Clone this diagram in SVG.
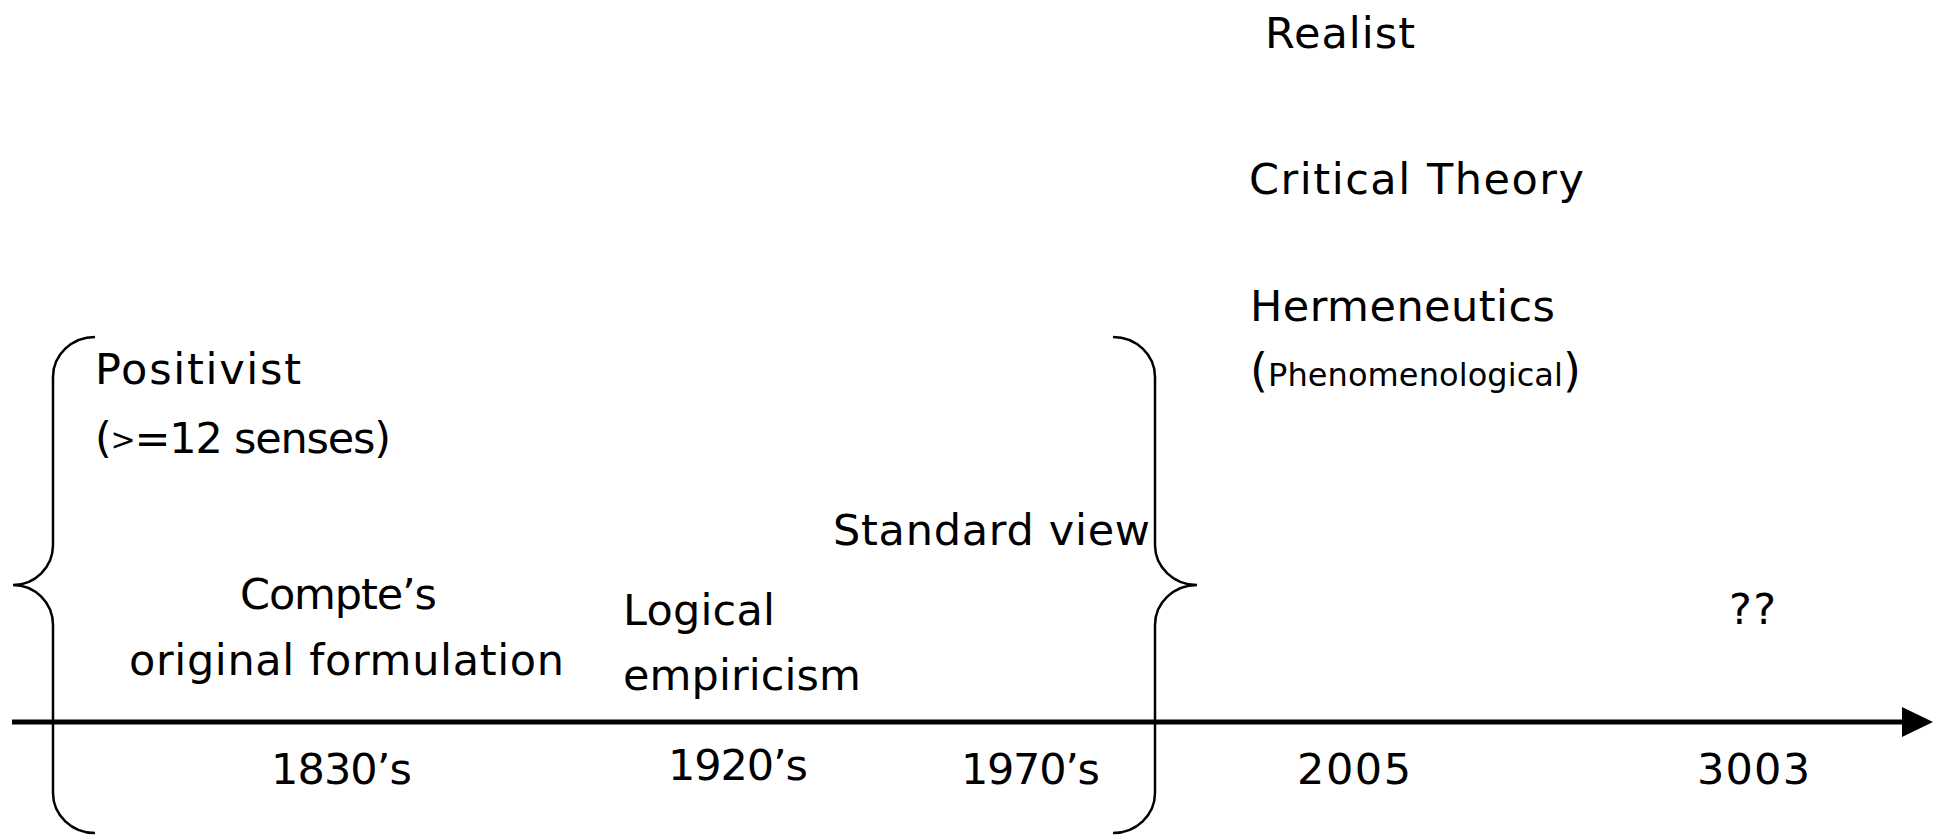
<svg xmlns="http://www.w3.org/2000/svg" width="1941" height="836" viewBox="0 0 1941 836">
  <style>
    text { font-family: "Comic Sans MS", "DejaVu Sans", "Liberation Sans", sans-serif; fill: #000; }
    .lbl { font-size: 43px; }
    .small { font-size: 32px; }
    .paren { font-size: 46px; }
    .gt { font-size: 30px; }
    .brace { fill: none; stroke: #000; stroke-width: 2.5; }
    .axis { fill: none; stroke: #000; stroke-width: 5; }
  </style>
  <defs>
    <marker id="arrowhead" markerUnits="userSpaceOnUse" markerWidth="32" markerHeight="32" refX="0" refY="15" orient="auto">
      <path d="M0,0 L31,15 L0,30 Z" fill="#000"/>
    </marker>
  </defs>
  <rect width="1941" height="836" fill="#fff"/>

  <!-- timeline axis and braces -->
  <g id="connectors">
    <line class="axis" x1="12" y1="722" x2="1902" y2="722" marker-end="url(#arrowhead)"/>
    <path id="brace-left" class="brace" d="M95,337 A42,40 0 0 0 53,377 L53,545 A40,40 0 0 1 13,585 A40,40 0 0 1 53,625 L53,793 A42,40 0 0 0 95,833"/>
    <path id="brace-right" class="brace" d="M1113,337 A42,40 0 0 1 1155,377 L1155,545 A42,40 0 0 0 1197,585 A42,40 0 0 0 1155,625 L1155,793 A42,40 0 0 1 1113,833"/>
  </g>

  <!-- positivist family -->
  <g id="positivist">
    <text class="lbl" x="95" y="384" textLength="206">Positivist</text>
    <text class="lbl" x="95" y="453" textLength="296">(<tspan class="gt" dy="-3">&gt;</tspan><tspan dy="3">=12 senses)</tspan></text>
  </g>
  <g id="compte">
    <text class="lbl" x="240" y="609" textLength="197">Compte’s</text>
    <text class="lbl" x="129" y="675" textLength="435">original formulation</text>
  </g>
  <g id="logical-empiricism">
    <text class="lbl" x="623" y="625" textLength="152">Logical</text>
    <text class="lbl" x="623" y="690" textLength="238">empiricism</text>
  </g>
  <g id="standard-view">
    <text class="lbl" x="833" y="545" textLength="317">Standard view</text>
  </g>

  <!-- later approaches -->
  <g id="realist">
    <text class="lbl" x="1265" y="48" textLength="150">Realist</text>
  </g>
  <g id="critical-theory">
    <text class="lbl" x="1249" y="194" textLength="335">Critical Theory</text>
  </g>
  <g id="hermeneutics">
    <text class="lbl" x="1250" y="321" textLength="305">Hermeneutics</text>
    <text x="1250" y="386" textLength="331"><tspan class="paren">(</tspan><tspan class="small">Phenomenological</tspan><tspan class="paren">)</tspan></text>
  </g>
  <g id="unknown">
    <text class="lbl" x="1729" y="624" textLength="47">??</text>
  </g>

  <!-- dates -->
  <g id="dates">
    <text class="lbl" x="271" y="784" textLength="141">1830’s</text>
    <text class="lbl" x="668" y="780" textLength="140">1920’s</text>
    <text class="lbl" x="961" y="784" textLength="139">1970’s</text>
    <text class="lbl" x="1297" y="784" textLength="114">2005</text>
    <text class="lbl" x="1697" y="784" textLength="113">3003</text>
  </g>
</svg>
